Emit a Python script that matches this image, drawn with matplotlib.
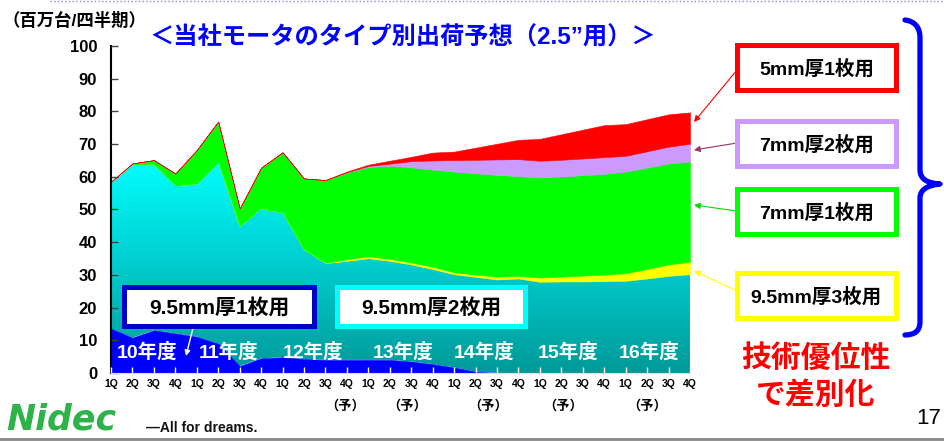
import numpy as np
import matplotlib
matplotlib.use("Agg")
import matplotlib.pyplot as plt
from matplotlib import transforms, patches
from matplotlib.path import Path
from matplotlib.colors import LinearSegmentedColormap

plt.rcParams['font.family'] = ['Liberation Sans', 'Noto Sans CJK JP', 'DejaVu Sans']
plt.rcParams['font.weight'] = 'bold'

# ---------------- data ----------------
quarter_labels = ["1Q", "2Q", "3Q", "4Q"] * 7
year_labels = ["10年度", "11年度", "12年度", "13年度", "14年度", "15年度", "16年度"]
year_label_pos = [1.7, 5.5, 9.4, 13.6, 17.4, 21.3, 25.1]
forecast_pos = [10.9, 13.8, 17.6, 21.1, 25.0]

s95_1 = [13.6, 10.8, 13.1, 12.1, 11.1, 9.0, 2.1, 4.5, 4.8, 4.3, 4.0, 4.0, 4.0, 4.0,
         3.5, 2.7, 1.7, 0.4, 0, 0, 0, 0, 0, 0, 0, 0, 0, 0]
s95_2 = [44.9, 53.0, 50.8, 45.3, 46.9, 55.6, 42.9, 45.9, 44.3, 33.5, 29.6, 30.3, 31.1, 30.3,
         29.7, 29.1, 28.5, 29.0, 28.6, 28.9, 27.9, 28.0, 28.0, 28.1, 28.2, 28.9, 29.7, 30.2]
s95_3 = [0, 0, 0, 0, 0, 0, 0, 0, 0, 0, 0.1, 0.5, 0.6, 0.6,
         0.6, 0.7, 0.6, 0.7, 0.9, 0.8, 1.3, 1.5, 1.8, 2.0, 2.3, 2.9, 3.5, 3.8]
s7_1 = [0, 0.3, 1.2, 3.6, 10.2, 12.3, 5.3, 12.4, 18.4, 21.7, 25.3, 26.5, 27.3, 28.5,
        29.1, 29.7, 30.8, 31.0, 31.1, 30.5, 30.6, 30.6, 30.7, 30.8, 31.1, 31.0, 30.9, 30.7]
s7_2 = [0, 0, 0, 0, 0, 0, 0, 0, 0, 0, 0, 0.1, 0.3, 0.6,
        1.9, 2.8, 3.5, 4.1, 4.7, 5.2, 5.1, 5.1, 5.1, 5.1, 4.8, 5.0, 5.1, 5.4]
s5_1 = [0, 0, 0, 0, 0, 0, 0, 0, 0, 0, 0, 0.2, 0.4, 0.9,
        1.3, 2.4, 2.6, 3.7, 4.8, 5.9, 6.7, 7.8, 8.8, 9.8, 9.7, 9.8, 9.9, 9.6]

series_names = ["9.5mm厚1枚用", "9.5mm厚2枚用", "9.5mm厚3枚用", "7mm厚1枚用", "7mm厚2枚用", "5mm厚1枚用"]
series_colors = ["#0000FF", "#00FFFF", "#FFFF00", "#00FF00", "#CC99FF", "#FF0000"]

W, H = 945, 441
fig = plt.figure(figsize=(W / 100, H / 100), dpi=100)
fig.patch.set_facecolor("white")
# pixel transform (origin top-left)
pxT = transforms.Affine2D().scale(1 / W, -1 / H).translate(0, 1) + fig.transFigure

ax = fig.add_axes([111 / W, (H - 373) / H, 579 / W, 327 / H])
x = np.arange(len(quarter_labels))
polys = ax.stackplot(x, s95_1, s95_2, s95_3, s7_1, s7_2, s5_1,
                     colors=series_colors, linewidth=0, zorder=2)
for p, c in zip(polys, series_colors):
    p.set_edgecolor(c)
    p.set_linewidth(0.4)

# gradient for the 9.5mm 2-disk series
cyan_poly = polys[1]
cyan_poly.set_facecolor("none")
cyan_poly.set_edgecolor("none")
cmap = LinearSegmentedColormap.from_list("tc", ["#009999", "#00FFFF"])
grad = np.clip(np.linspace(0, 100, 300) / 65.0, 0, 1).reshape(-1, 1)
im = ax.imshow(grad, extent=[0, 27, 0, 100], origin="lower", aspect="auto",
               cmap=cmap, vmin=0, vmax=1, zorder=1.9, interpolation="bilinear")
im.set_clip_path(cyan_poly.get_paths()[0], transform=ax.transData)

ax.set_xlim(0, 27)
ax.set_ylim(0, 100)
ax.set_yticks(np.arange(0, 101, 10))
ax.set_xticks(x)
ax.set_xticklabels(quarter_labels, fontsize=7.5, fontweight="bold")
ax.tick_params(axis="y", direction="in", length=5, width=1, color="#444444",
               labelsize=12, pad=10)
ax.tick_params(axis="x", direction="in", length=4, width=1, color="white", pad=4)
for s in ["top", "right"]:
    ax.spines[s].set_visible(False)
ax.spines["left"].set_linewidth(1.5)
ax.spines["left"].set_color("black")
ax.spines["bottom"].set_color("#DDDDDD")
ax.spines["bottom"].set_zorder(5)
ax.set_axisbelow(False)
ax.patch.set_alpha(0)

for lbl, xp in zip(year_labels, year_label_pos):
    ax.text(xp, 6.5, lbl, color="white", fontsize=14, fontweight="bold",
            ha="center", va="center", zorder=6)
for xp in forecast_pos:
    ax.text(xp, -10.2, "（予）", fontsize=9.5, ha="center", va="center",
            clip_on=False)

# ---------- figure-level annotations (pixel coords) ----------
def ftext(px, py, s, **kw):
    fig.text(px / W, 1 - py / H, s, **kw)

ftext(2, 20, "（百万台/四半期）", fontsize=12.5, ha="left", va="center")
ftext(403, 38, "＜当社モータのタイプ別出荷予想（2.5”用）＞", fontsize=17.5,
      color="#0000FF", ha="center", va="center")

def box(x0, y0, x1, y1, ec, label, fs=14):
    r = patches.Rectangle((x0, y0), x1 - x0, y1 - y0, transform=pxT,
                          facecolor="white", edgecolor=ec, linewidth=3.6, zorder=10)
    fig.add_artist(r)
    ftext((x0 + x1) / 2, (y0 + y1) / 2 + 1, label, fontsize=fs, ha="center",
          va="center", zorder=11)

box(124, 287, 314, 326, "#0000CC", series_names[0], fs=15)
box(337, 287, 525, 326, "#00FFFF", series_names[1], fs=15)
box(737, 45, 896, 90, "#FF0000", series_names[5])
box(737, 121, 896, 166, "#CC99FF", series_names[4])
box(737, 189, 896, 234, "#00FF00", series_names[3])
box(737, 273, 896, 318, "#FFFF00", series_names[2])

def arrow(p0, p1, color, lw=0.8, ms=9):
    a = patches.FancyArrowPatch(p0, p1, transform=pxT, arrowstyle="-|>",
                                mutation_scale=ms, color=color, lw=lw, zorder=9,
                                shrinkA=0, shrinkB=0)
    fig.add_artist(a)

arrow((737, 70), (694, 122), "#FF0000")
arrow((737, 143), (694, 150), "#993366")
arrow((737, 211), (694, 205), "#00DD00")
arrow((737, 291), (694, 271), "#FFFF00")
arrow((193, 328), (186, 356), "white", lw=1.0, ms=8)

# blue brace
verts = [(905, 20), (920, 22), (920, 38),
         (920, 170),
         (920, 183), (940, 184),
         (920, 186), (920, 198),
         (920, 322),
         (920, 335), (905, 335)]
codes = [Path.MOVETO, Path.CURVE3, Path.CURVE3,
         Path.LINETO,
         Path.CURVE3, Path.CURVE3,
         Path.CURVE3, Path.CURVE3,
         Path.LINETO,
         Path.CURVE3, Path.CURVE3]
brace = patches.PathPatch(Path(verts, codes), transform=pxT, fill=False,
                          edgecolor="#0000FF", linewidth=3.8, capstyle="round",
                          joinstyle="round")
fig.add_artist(brace)

ftext(816, 358, "技術優位性", fontsize=21.5, color="#FF0000", ha="center", va="center")
ftext(816, 396, "で差別化", fontsize=21.5, color="#FF0000", ha="center", va="center")
ftext(929, 419, "17", fontsize=16, fontweight="normal", ha="center", va="center")

# top dotted border and bottom gray rule
fig.add_artist(plt.Line2D([50, 945], [1, 1], transform=pxT, color="#8888DD",
                          lw=1, ls=":"))
fig.add_artist(plt.Line2D([0, 945], [439, 439], transform=pxT, color="#888888",
                          lw=2))

# logo
ftext(6, 420, "Nidec", fontsize=25, fontstyle="italic", fontweight="heavy",
      color="#2DB34A", ha="left", va="center", family="DejaVu Sans")
ftext(146, 428, "—All for dreams.", fontsize=10, ha="left", va="center",
      color="#111111")

fig.savefig("out.png", dpi=100, facecolor="white")
